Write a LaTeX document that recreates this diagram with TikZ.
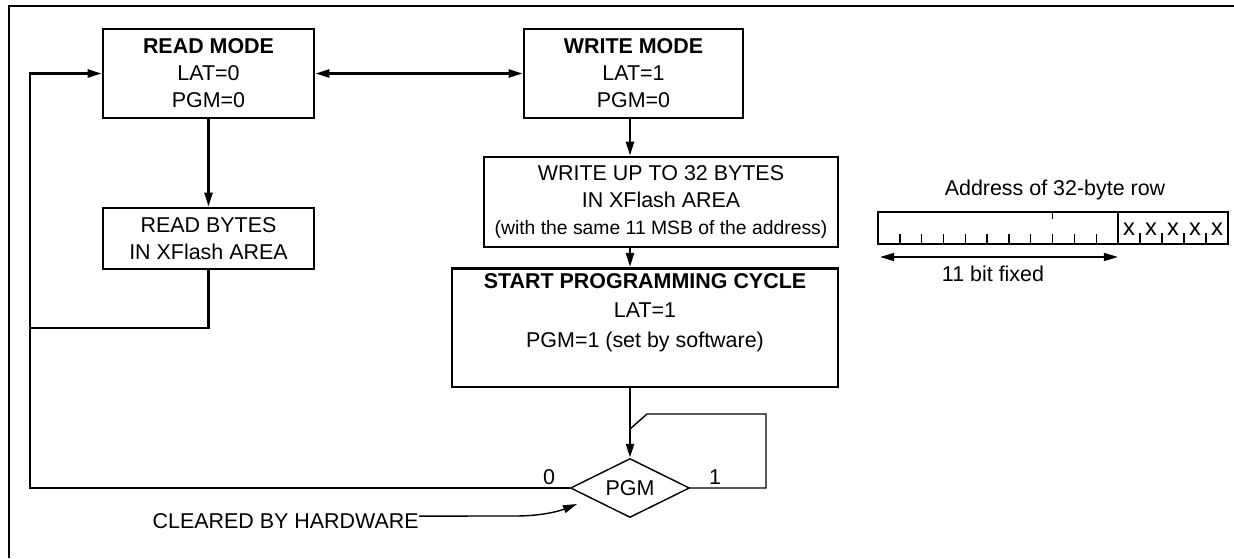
\documentclass[tikz,border=0pt]{standalone}
\usepackage{fontspec}
\setmainfont{Liberation Sans}
\usetikzlibrary{arrows.meta,shapes.geometric}

\tikzset{
  box/.style={draw, line width=1.5pt, align=center, inner sep=0pt},
  flow/.style={line width=1.5pt, -{Triangle[length=8pt,width=4.5pt]}},
  thinline/.style={line width=0.8pt},
}

\begin{document}
\begin{tikzpicture}[x=0.02cm,y=-0.02cm,
    every node/.style={font=\fontsize{12.2}{15.3}\selectfont}]
      \useasboundingbox (0,0) rectangle (1234,558);
      \draw[line width=1.5pt] (9,558) -- (9,6) -- (1234,6);

      \node[box, minimum width=4.22cm, minimum height=1.78cm] (rm) at (208.5,73.5) {\textbf{READ MODE}\\LAT=0\\PGM=0};
      \node[box, minimum width=4.38cm, minimum height=1.78cm] (wm) at (633.5,73.5) {\textbf{WRITE MODE}\\LAT=1\\PGM=0};
      \node[box, minimum width=4.22cm, minimum height=1.22cm] (rb) at (208.5,238.5) {READ BYTES\\IN XFlash AREA};
      \node[box, minimum width=7.08cm, minimum height=1.8cm] (wr) at (661,202) {WRITE UP TO 32 BYTES\\IN XFlash AREA\\{\fontsize{11}{15.3}\selectfont (with the same 11 MSB of the address)}};
      \node[box, minimum width=7.72cm, inner ysep=2.8pt, anchor=north] (sp) at (645,267) {\textbf{START PROGRAMMING CYCLE}\\[1.5pt]LAT=1\\[1.5pt]PGM=1 (set by software)\rule[-0.7cm]{0pt}{0.7cm}};
      \node[draw, diamond, aspect=2, inner sep=0pt, thinline, minimum width=2.38cm, minimum height=1.18cm] (pgm) at (630,488) {PGM};

      % connectors
      \draw[line width=1.5pt, {Triangle[length=8pt,width=4.5pt]}-{Triangle[length=8pt,width=4.5pt]}] (rm.east) -- (wm.west);
      \draw[flow] (rm) -- (rb);
      \draw[flow] (wm.south -| pgm) -- (wr.north -| pgm);
      \draw[flow] (wr.south -| pgm) -- (sp.north -| pgm);
      \draw[flow] (sp.south -| pgm) -- (pgm.north);
      \draw[flow] (pgm.west) -- (30,488) |- (rm.west);
      \draw[line width=1.5pt] (rb.south) |- (30,328);
      \draw[thinline] (pgm.east) -- (766,488) -- (766,414) -- (647,414) -- (630,429);
      \node (l0) at (549,477) {0};
      \node (l1) at (715,477) {1};

      \node[anchor=east, inner sep=0pt] (hw) at (419,521) {CLEARED BY HARDWARE};
      \draw[thinline, -{Triangle[length=8pt,width=4.5pt]}] ([yshift=2.8pt]hw.east) -- (515,516) .. controls (545,516) and (562,510) .. (577,504);

      % address row
      \node (adr) at (1055,190) {Address of 32-byte row};
      \draw[line width=1pt] (878,212) rectangle (1228,244);
      \draw[line width=1pt] (1118,212) -- (1118,244);
      \foreach \k in {1,...,10}{
        \draw[thinline] (878+21.82*\k,244) -- ++(0,-10); }
      \draw[thinline] (1052.5,212) -- ++(0,7);
      \foreach \k in {1,...,4}{
        \draw[thinline] (1118+22*\k,244) -- ++(0,-11); }
      \foreach \k in {1,...,5}{
        \node[font=\fontsize{13.5}{15}\selectfont] at (1107+22*\k,229) {x}; }
      \draw[line width=1pt, {Triangle[length=8pt,width=4.5pt]}-{Triangle[length=8pt,width=4.5pt]}] (880,257) -- (1118,257);
      \node (fix) at (993,274) {11 bit fixed};
\end{tikzpicture}
\end{document}
